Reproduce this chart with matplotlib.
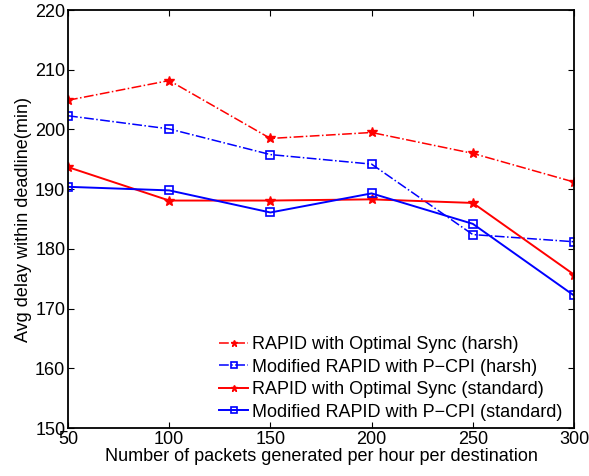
import numpy as np
import matplotlib.pyplot as plt

plt.rcParams['font.family'] = ['Liberation Sans', 'DejaVu Sans']

# --- Data ---
packets = [50, 100, 150, 200, 250, 300]
rapid_harsh = [204.9, 208.2, 198.5, 199.5, 196.0, 191.2]
prop_harsh = [202.3, 200.1, 195.8, 194.2, 182.4, 181.2]
rapid_std = [193.7, 188.1, 188.1, 188.3, 187.7, 175.7]
prop_std = [190.4, 189.8, 186.1, 189.3, 184.2, 172.2]

labels = ['RAPID with Optimal Sync (harsh)',
          'Modified RAPID with P\u2212CPI (harsh)',
          'RAPID with Optimal Sync (standard)',
          'Modified RAPID with P\u2212CPI (standard)']

# --- Plotting ---
fig = plt.figure(figsize=(5.89, 4.76), dpi=100)
ax = fig.add_axes([0.1155, 0.1008, 0.859, 0.878])

ax.plot(packets, rapid_harsh, color='red', linestyle='-.', marker='*',
        markersize=7, linewidth=1.1, label=labels[0])
ax.plot(packets, prop_harsh, color='blue', linestyle='-.', marker='s',
        markersize=6, markerfacecolor='none', markeredgewidth=1.2,
        linewidth=1.1, label=labels[1])
ax.plot(packets, rapid_std, color='red', linestyle='-', marker='*',
        markersize=7, linewidth=1.4, label=labels[2])
ax.plot(packets, prop_std, color='blue', linestyle='-', marker='s',
        markersize=6, markerfacecolor='none', markeredgewidth=1.2,
        linewidth=1.4, label=labels[3])

# --- Formatting ---
ax.set_xlim(50, 300)
ax.set_ylim(150, 220)
ax.set_xticks(packets)
ax.set_yticks(np.arange(150, 221, 10))
ax.tick_params(direction='in', labelsize=13, top=True, right=True, length=4, pad=2)
for s in ax.spines.values():
    s.set_linewidth(1.3)
ax.set_xlabel("Number of packets generated per hour per destination", fontsize=13, labelpad=0)
ax.set_ylabel("Avg delay within deadline(min)", fontsize=13, labelpad=2)

# legend without frame, tucked into the lower right corner
leg = ax.legend(loc='lower right', bbox_to_anchor=(0.988, 0.005), fontsize=13,
                frameon=False, handlelength=1.6, handletextpad=0.22,
                borderaxespad=0.0, labelspacing=0.3, borderpad=0.3,
                markerscale=0.7)

plt.savefig('out.png', dpi=100)
